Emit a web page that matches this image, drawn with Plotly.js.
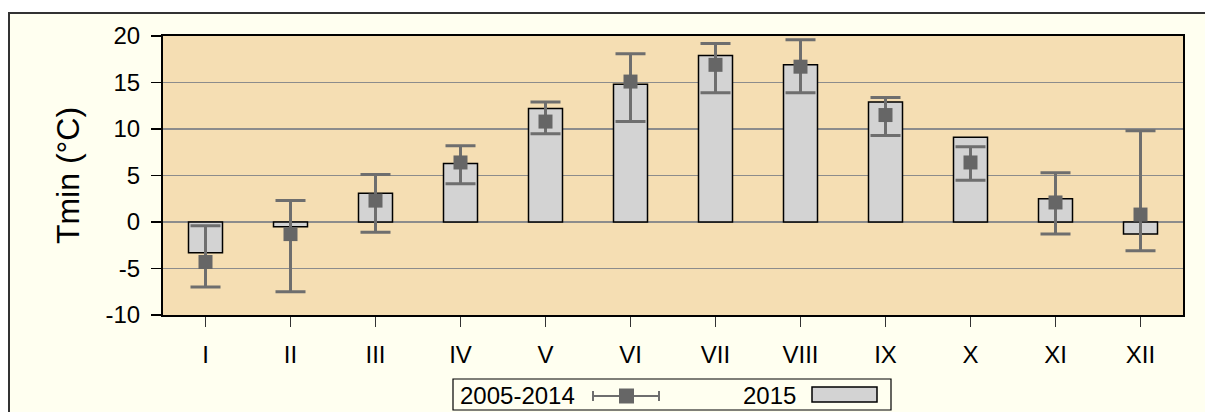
<!DOCTYPE html>
<html>
<head>
<meta charset="utf-8">
<script src="https://cdn.plot.ly/plotly-3.0.1.min.js"></script>
<style>
  html, body { margin: 0; padding: 0; background: #ffffff; width: 1205px; height: 412px; overflow: hidden; }
  #frame { position: absolute; left: 8px; top: 12px; width: 1205px; height: 420px; background: #FFFFF0; border-left: 2px solid #333; border-top: 2px solid #333; box-sizing: border-box; }
  #chart { position: absolute; left: 0; top: 0; width: 1205px; height: 412px; }
</style>
</head>
<body>
<div id="frame"></div>
<div id="chart"></div>
<script>
// Month labels
const months = ['I','II','III','IV','V','VI','VII','VIII','IX','X','XI','XII'];
// 2015 monthly Tmin (bars)
const tmin2015 = [-3.3, -0.5, 3.1, 6.3, 12.2, 14.8, 17.9, 16.9, 12.9, 9.1, 2.5, -1.3];
// 2005-2014 mean Tmin (markers)
const meanPeriod = [-4.3, -1.3, 2.3, 6.4, 10.8, 15.1, 16.9, 16.7, 11.5, 6.4, 2.1, 0.8];
// 2005-2014 max / min of monthly Tmin (error bar ends)
const maxPeriod = [-0.4, 2.3, 5.1, 8.2, 12.9, 18.1, 19.2, 19.6, 13.4, 8.1, 5.3, 9.8];
const minPeriod = [-7.0, -7.5, -1.1, 4.1, 9.5, 10.8, 13.9, 13.9, 9.3, 4.5, -1.3, -3.1];
// Y tick values and labels
const yTickVals = [-10, -5, 0, 5, 10, 15, 20];
const yTickText = ['-10', '-5', '0', '5', '10', '15', '20'];
// Legend labels
const legendPeriod = '2005-2014';
const legendYear = '2015';

const errPlus = maxPeriod.map((v, i) => v - meanPeriod[i]);
const errMinus = meanPeriod.map((v, i) => v - minPeriod[i]);

const barTrace = {
  type: 'bar', x: months, y: tmin2015, name: legendYear,
  width: 0.4,
  marker: { color: '#D3D3D3', line: { color: '#000000', width: 1.5 } },
  showlegend: false
};
const meanTrace = {
  type: 'scatter', mode: 'markers', x: months, y: meanPeriod, name: legendPeriod,
  marker: { symbol: 'square', size: 14, color: '#666666' },
  error_y: { type: 'data', symmetric: false, array: errPlus, arrayminus: errMinus,
             color: '#6E6E6E', thickness: 3, width: 15 },
  showlegend: false
};

// plot area in pixels: x 163..1183, y 36..315
const L = 163, R = 1183, T = 36, B = 315;
const px = v => (v - L) / (R - L);
const py = v => (B - v) / (B - T);

const shapes = [
  { type: 'rect', xref: 'paper', yref: 'paper', x0: px(453), x1: px(891), y0: py(379), y1: py(410),
    line: { color: '#000', width: 1.2 }, fillcolor: 'rgba(0,0,0,0)' },
  { type: 'line', xref: 'paper', yref: 'paper', x0: px(593), x1: px(659), y0: py(396), y1: py(396),
    line: { color: '#6E6E6E', width: 2 } },
  { type: 'line', xref: 'paper', yref: 'paper', x0: px(593), x1: px(593), y0: py(391), y1: py(401),
    line: { color: '#6E6E6E', width: 2 } },
  { type: 'line', xref: 'paper', yref: 'paper', x0: px(659), x1: px(659), y0: py(391), y1: py(401),
    line: { color: '#6E6E6E', width: 2 } },
  { type: 'rect', xref: 'paper', yref: 'paper', x0: px(619), x1: px(634), y0: py(388.5), y1: py(403.5),
    line: { width: 0 }, fillcolor: '#666666' },
  { type: 'rect', xref: 'paper', yref: 'paper', x0: px(812), x1: px(877), y0: py(387), y1: py(402),
    line: { color: '#000', width: 1.5 }, fillcolor: '#D3D3D3' }
];

const annotations = [
  { xref: 'paper', yref: 'paper', x: px(458), y: py(395), xanchor: 'left', yanchor: 'middle',
    text: legendPeriod, showarrow: false, font: { size: 24, color: '#000' } },
  { xref: 'paper', yref: 'paper', x: px(741), y: py(395), xanchor: 'left', yanchor: 'middle',
    text: legendYear, showarrow: false, font: { size: 24, color: '#000' } }
];

const layout = {
  width: 1205, height: 412,
  margin: { l: L, r: 1205 - R, t: T, b: 412 - B, pad: 0 },
  paper_bgcolor: 'rgba(0,0,0,0)',
  plot_bgcolor: '#F5DEB3',
  font: { family: '"Liberation Sans", Arial, sans-serif', size: 24, color: '#000' },
  showlegend: false,
  xaxis: {
    type: 'category', range: [-0.5, 11.5], showgrid: false, zeroline: false,
    showline: true, linecolor: '#000', linewidth: 2, mirror: true,
    ticks: 'outside', ticklen: 10, tickwidth: 1.5, tickcolor: '#333',
    ticklabelstandoff: 7,
    tickfont: { size: 24 }
  },
  yaxis: {
    range: [-10, 20], tickvals: yTickVals, ticktext: yTickText,
    showgrid: true, gridcolor: '#8C8C8C', gridwidth: 1.5, zeroline: false,
    showline: true, linecolor: '#000', linewidth: 2, mirror: true,
    ticks: 'outside', ticklen: 10, tickwidth: 1.5, tickcolor: '#000',
    ticklabelstandoff: 6,
    tickfont: { size: 24 },
    title: { text: 'Tmin (°C)', font: { size: 32 }, standoff: 16 }
  },
  shapes: shapes,
  annotations: annotations
};

Plotly.newPlot('chart', [barTrace, meanTrace], layout, { displayModeBar: false, staticPlot: true });
</script>
</body>
</html>
